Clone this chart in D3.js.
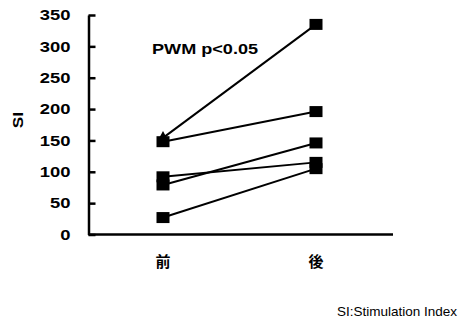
<!DOCTYPE html>
<html><head><meta charset="utf-8">
<script src="https://cdn.jsdelivr.net/npm/d3@7"></script>
<style>body{margin:0;background:#fff}svg{display:block}</style>
</head><body>
<script>
const categories = ["前", "後"];
const yTicks = [0, 50, 100, 150, 200, 250, 300, 350];
// each subject: [before, after]
const subjectBefore = [154, 148, 92, 79, 27];
const subjectAfter  = [335, 196, 115, 146, 105];
const subjectMarker = ["triangle", "square", "square", "square", "square"];
const annotation = "PWM p<0.05";
const yLabel = "SI";
const footnote = "SI:Stimulation Index";

const W = 458, H = 322;
const SX = 1.27;
const svg = d3.select("body").append("svg").attr("width", W).attr("height", H);
const x = d3.scalePoint().domain(categories).range([163, 316]);
const y = d3.scaleLinear().domain([0, 350]).range([234.5, 15]);

// axes
const ya = svg.append("g").attr("transform", "translate(88.5,0)")
  .call(d3.axisLeft(y).tickValues(yTicks).tickSizeInner(-7).tickSizeOuter(0).tickPadding(18));
ya.select(".domain").attr("stroke", "#000").attr("stroke-width", 2.5);
ya.selectAll(".tick line").attr("stroke", "#000").attr("stroke-width", 2.5);
ya.selectAll(".tick text").attr("font-family", "Liberation Sans, Arial, sans-serif")
  .attr("font-weight", "bold").attr("font-size", 14.5).attr("fill", "#000")
  .attr("x", -18 / SX).attr("transform", `scale(${SX},1)`);

svg.append("line").attr("x1", 88.5).attr("x2", 393).attr("y1", y(0)).attr("y2", y(0))
  .attr("stroke", "#000").attr("stroke-width", 2.5);

// category labels
svg.selectAll(".cat").data(categories).enter().append("text")
  .attr("x", d => x(d)).attr("y", 267).attr("text-anchor", "middle")
  .attr("font-family", "Noto Sans CJK JP, sans-serif").attr("font-weight", "bold")
  .attr("font-size", 15).text(d => d);

// lines
const data = subjectBefore.map((b, i) => ({b, a: subjectAfter[i], m: subjectMarker[i]}));
svg.selectAll(".ln").data(data).enter().append("line")
  .attr("x1", x(categories[0])).attr("y1", d => y(d.b))
  .attr("x2", x(categories[1])).attr("y2", d => y(d.a))
  .attr("stroke", "#000").attr("stroke-width", 2);

function marker(g, cx, cy, type) {
  if (type === "square") {
    g.append("rect").attr("x", cx - 6.5).attr("y", cy - 5.5).attr("width", 13).attr("height", 11).attr("fill", "#000");
  } else {
    g.append("path").attr("d", `M${cx},${cy-7}L${cx+6},${cy+4}L${cx-6},${cy+4}Z`).attr("fill", "#000");
  }
}
const mg = svg.append("g");
data.forEach(d => {
  marker(mg, x(categories[0]), y(d.b), d.m);
  marker(mg, x(categories[1]), y(d.a), "square");
});

svg.append("text").attr("transform", `translate(152,54) scale(${SX * 0.95},1)`)
  .attr("font-family", "Liberation Sans, Arial, sans-serif")
  .attr("font-weight", "bold").attr("font-size", 15).text(annotation);

svg.append("text").attr("transform", "translate(23,120) rotate(-90) scale(1.15,1)").attr("text-anchor", "middle")
  .attr("font-family", "Liberation Sans, Arial, sans-serif").attr("font-weight", "bold")
  .attr("font-size", 15).text(yLabel);

svg.append("text").attr("x", 457).attr("y", 316).attr("text-anchor", "end")
  .attr("font-family", "Liberation Sans, Arial, sans-serif").attr("font-size", 13.5).text(footnote);
</script>
</body></html>
